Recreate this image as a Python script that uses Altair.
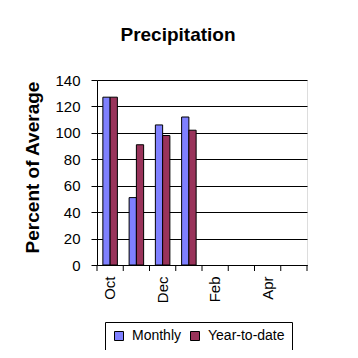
import altair as alt
import pandas as pd

months = ["Oct", "Nov", "Dec", "Jan", "Feb", "Mar", "Apr", "May"]
data_months = ["Oct", "Nov", "Dec", "Jan"]
monthly = [127, 51, 106, 112]
ytd = [127, 91, 98, 102]
series = ["Monthly", "Year-to-date"]
colors = ["#7f80ff", "#99335a"]
shown_labels = ["Oct", "Dec", "Feb", "Apr"]

rows = []
for m, a, b in zip(data_months, monthly, ytd):
    rows.append({"month": m, "series": series[0], "value": a})
    rows.append({"month": m, "series": series[1], "value": b})
df = pd.DataFrame(rows)
tick_df = pd.DataFrame({"month": months})

FONT = "Liberation Sans"
W, H = 210, 185

xscale = alt.Scale(domain=months, paddingInner=0, paddingOuter=0)
label_expr = "indexof(" + str(shown_labels).replace("'", "\"") + ", datum.label) >= 0 ? datum.label : ''"

bars = alt.Chart(df).mark_bar(stroke="black", strokeWidth=1).encode(
    x=alt.X("month:N", scale=xscale, sort=months,
            axis=alt.Axis(title=None, ticks=False, labelExpr=label_expr, labelAngle=-90,
                          labelAlign="right", labelBaseline="middle", labelPadding=11,
                          labelFont=FONT, labelFontSize=15, labelColor="black",
                          domainColor="black", grid=False)),
    xOffset=alt.XOffset("series:N", sort=series,
                        scale=alt.Scale(paddingInner=0, paddingOuter=0.81)),
    y=alt.Y("value:Q", scale=alt.Scale(domain=[0, 140]),
            axis=alt.Axis(title="Percent of Average", values=list(range(0, 141, 20)),
                          titleFont=FONT, titleFontSize=19, titleFontWeight="bold",
                          titleColor="black", titlePadding=12, titleY=87,
                          labelFont=FONT, labelFontSize=15, labelColor="black",
                          tickColor="black", tickSize=6, domainColor="black",
                          gridColor="black", gridOpacity=1, labelPadding=11)),
    color=alt.Color("series:N", sort=series,
                    scale=alt.Scale(domain=series, range=colors),
                    legend=alt.Legend(title=None, orient="none", direction="horizontal",
                                      legendX=8, legendY=242,
                                      symbolType="square", symbolSize=81,
                                      symbolStrokeColor="black", symbolStrokeWidth=1,
                                      labelFont=FONT, labelFontSize=14, labelColor="black",
                                      strokeColor="black", padding=7,
                                      columnPadding=6, labelOffset=6)),
)

ticks = alt.Chart(tick_df).mark_rule(color="black").encode(
    x=alt.X("month:N", scale=xscale, sort=months, bandPosition=0),
    y=alt.value(H),
    y2=alt.value(H + 6),
)
end_tick = alt.Chart(tick_df.head(1)).mark_rule(color="black").encode(
    x=alt.value(W), y=alt.value(H), y2=alt.value(H + 6)
)

chart = alt.layer(bars, ticks, end_tick).properties(
    width=W, height=H,
    title=alt.TitleParams("Precipitation", font=FONT, fontSize=19, fontWeight="bold",
                          color="black", anchor="middle", dx=-24, offset=28),
    autosize=alt.AutoSizeParams(type="none"),
    padding={"left": 89, "top": 72, "right": 42, "bottom": 85},
).configure_view(stroke="#808080", strokeWidth=1).configure(background="white")

chart.save("out.html", embed_options={"renderer": "svg", "actions": False})
